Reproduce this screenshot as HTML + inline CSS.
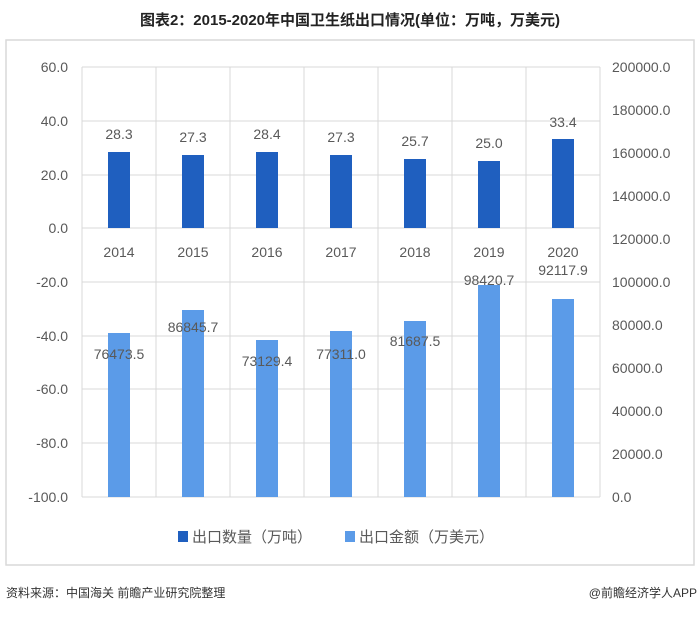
<!DOCTYPE html>
<html><head><meta charset="utf-8"><style>
body{margin:0;width:700px;height:612px;background:#fff;overflow:hidden;font-family:"Liberation Sans","Noto Sans CJK SC",sans-serif}
</style></head><body>
<svg width="700" height="612" xmlns="http://www.w3.org/2000/svg" font-family="Liberation Sans, Noto Sans CJK SC, sans-serif">
<text x="350" y="25" text-anchor="middle" font-size="15" font-weight="bold" fill="#222">图表2：2015-2020年中国卫生纸出口情况(单位：万吨，万美元)</text>
<rect x="6" y="40" width="688" height="525" fill="none" stroke="#d9d9d9" stroke-width="1.5"/>
<g stroke="#d9d9d9" stroke-width="1">
<line x1="82" y1="67" x2="600" y2="67"/><line x1="82" y1="121" x2="600" y2="121"/><line x1="82" y1="175" x2="600" y2="175"/><line x1="82" y1="228" x2="600" y2="228"/><line x1="82" y1="282" x2="600" y2="282"/><line x1="82" y1="336" x2="600" y2="336"/><line x1="82" y1="389" x2="600" y2="389"/><line x1="82" y1="443" x2="600" y2="443"/><line x1="82" y1="497" x2="600" y2="497"/>
<line x1="82" y1="67" x2="82" y2="497"/><line x1="156" y1="67" x2="156" y2="497"/><line x1="230" y1="67" x2="230" y2="497"/><line x1="304" y1="67" x2="304" y2="497"/><line x1="378" y1="67" x2="378" y2="497"/><line x1="452" y1="67" x2="452" y2="497"/><line x1="526" y1="67" x2="526" y2="497"/><line x1="600" y1="67" x2="600" y2="497"/>
</g>
<g font-size="14" fill="#595959" text-anchor="end">
<text x="68" y="72">60.0</text><text x="68" y="126">40.0</text><text x="68" y="180">20.0</text><text x="68" y="233">0.0</text><text x="68" y="287">-20.0</text><text x="68" y="341">-40.0</text><text x="68" y="394">-60.0</text><text x="68" y="448">-80.0</text><text x="68" y="502">-100.0</text>
</g>
<g font-size="14" fill="#595959">
<text x="612" y="72">200000.0</text><text x="612" y="115">180000.0</text><text x="612" y="158">160000.0</text><text x="612" y="201">140000.0</text><text x="612" y="244">120000.0</text><text x="612" y="287">100000.0</text><text x="612" y="330">80000.0</text><text x="612" y="373">60000.0</text><text x="612" y="416">40000.0</text><text x="612" y="459">20000.0</text><text x="612" y="502">0.0</text>
</g>
<g fill="#5b9be8">
<rect x="108" y="333" width="22" height="164"/><rect x="182" y="310" width="22" height="187"/><rect x="256" y="340" width="22" height="157"/><rect x="330" y="331" width="22" height="166"/><rect x="404" y="321" width="22" height="176"/><rect x="478" y="285" width="22" height="212"/><rect x="552" y="299" width="22" height="198"/>
</g>
<g fill="#1f5fbf">
<rect x="108" y="152" width="22" height="76"/><rect x="182" y="155" width="22" height="73"/><rect x="256" y="152" width="22" height="76"/><rect x="330" y="155" width="22" height="73"/><rect x="404" y="159" width="22" height="69"/><rect x="478" y="161" width="22" height="67"/><rect x="552" y="139" width="22" height="89"/>
</g>
<g font-size="14" fill="#595959" text-anchor="middle">
<text x="119" y="139">28.3</text><text x="193" y="142">27.3</text><text x="267" y="139">28.4</text><text x="341" y="142">27.3</text><text x="415" y="146">25.7</text><text x="489" y="148">25.0</text><text x="563" y="127">33.4</text>
<text x="119" y="257">2014</text><text x="193" y="257">2015</text><text x="267" y="257">2016</text><text x="341" y="257">2017</text><text x="415" y="257">2018</text><text x="489" y="257">2019</text><text x="563" y="257">2020</text>
<text x="119" y="359">76473.5</text><text x="193" y="332">86845.7</text><text x="267" y="366">73129.4</text><text x="341" y="359">77311.0</text><text x="415" y="346">81687.5</text><text x="489" y="285">98420.7</text><text x="563" y="275">92117.9</text>
</g>
<rect x="178" y="531" width="10" height="11" fill="#1f5fbf"/>
<text x="192" y="542" font-size="15" fill="#595959">出口数量（万吨）</text>
<rect x="345" y="531" width="10" height="11" fill="#5b9be8"/>
<text x="359" y="542" font-size="15" fill="#595959">出口金额（万美元）</text>
<text x="6" y="597" font-size="12" fill="#333">资料来源：中国海关 前瞻产业研究院整理</text>
<text x="697" y="597" font-size="12" fill="#333" text-anchor="end">@前瞻经济学人APP</text>
</svg>
</body></html>
